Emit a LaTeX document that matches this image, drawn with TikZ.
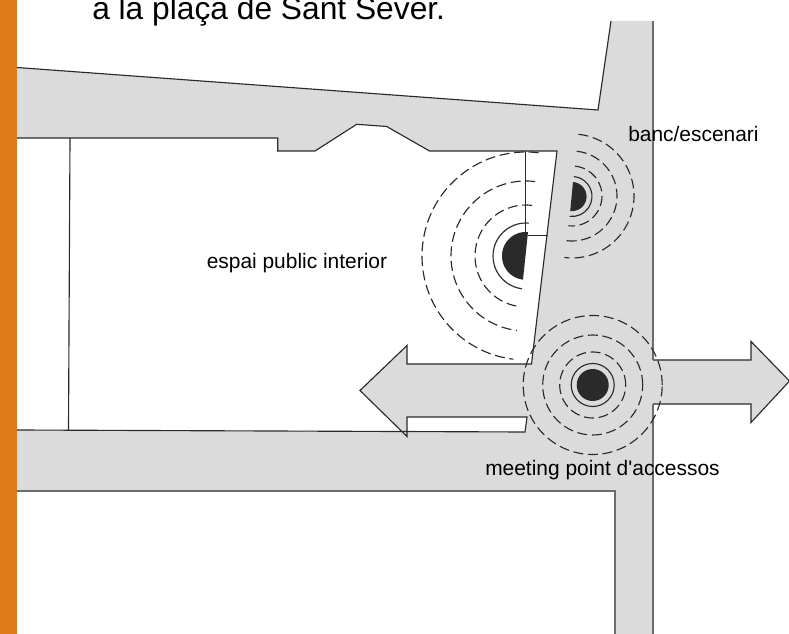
\documentclass[tikz,border=0pt]{standalone}
\usepackage{fontspec}
\setmainfont{Liberation Sans}
\newfontfamily\plainsans{Liberation Sans}
\definecolor{bandgray}{HTML}{DBDBDB}
\definecolor{barorange}{HTML}{E07B1A}
\definecolor{inkdark}{HTML}{2A2A2A}
\tikzset{
  outline/.style={draw=inkdark,line width=0.85pt,line join=miter},
  edgeline/.style={draw=gray!85!black,line width=1.1pt},
  ripple/.style={draw=inkdark,line width=0.85pt,dash pattern=on 7.5pt off 3.5pt},
  innerring/.style={draw=inkdark,line width=0.85pt},
  core/.style={fill=inkdark,draw=none},
  lbl/.style={inner sep=0pt,anchor=base west,text=black,font=\plainsans\fontsize{15.7pt}{18pt}\selectfont},
  headline/.style={inner sep=0pt,anchor=base west,text=black,font=\fontsize{23.8pt}{28pt}\selectfont}
}
\begin{document}
\begin{tikzpicture}[x=0.75pt,y=0.75pt]
\useasboundingbox (0,-634) rectangle (789,0);
\clip (0,-634) rectangle (789,0);
\fill[white] (0,-634) rectangle (789,0);
% gray street surface
\fill[bandgray] (17,-67.5) -- (598,-110) -- (611,-21) -- (653,-21) -- (653,-360) -- (751,-360) -- (751,-341.5) -- (789.5,-381) -- (751,-422.5) -- (751,-404) -- (653,-404) -- (653,-634) -- (615,-634) -- (615,-491) -- (17,-491) -- (17,-430) -- (402,-432) -- (360,-390.5) -- (407,-345.5) -- (407,-364) -- (531.5,-364) -- (557,-151) -- (429.5,-151) -- (386.7,-126.5) -- (356.7,-124.3) -- (315,-151) -- (277.7,-151) -- (277.7,-138) -- (17,-138) -- cycle;
\fill[bandgray] (402,-432) -- (407,-436.5) -- (407,-432) -- cycle;
\fill[white] (407,-417) -- (527,-417) -- (525,-432) -- (407,-432) -- cycle;
% orange bar
\fill[barorange] (0,-634) rectangle (17,0);
% outlines
\draw[outline] (17,-67.5) -- (598,-110) -- (611,-21);
\draw[outline] (17,-138) -- (277.7,-138) -- (277.7,-151) -- (315,-151) -- (356.7,-124.3) -- (386.7,-126.5) -- (429.5,-151) -- (557,-151) -- (531.5,-364) -- (407,-364) -- (407,-345.5) -- (360,-390.5) -- (407,-436.5) -- (407,-417) -- (527,-417) -- (525,-432) -- (17,-430);
\draw[outline] (70,-138) -- (68.5,-430);
\draw[outline] (525.5,-151) -- (525.5,-233);
\draw[outline] (528,-235.5) -- (548,-235.5);
\draw[outline] (653,-360) -- (751,-360) -- (751,-341.5) -- (789.5,-381) -- (751,-422.5) -- (751,-404) -- (653,-404);
\draw[edgeline] (653,-21) -- (653,-360);
\draw[edgeline] (653,-404) -- (653,-634);
\draw[edgeline] (615,-634) -- (615,-491) -- (17,-491);
% interior point
\fill[core] (528,-232) arc[start angle=85,end angle=263,radius=24] -- cycle;
\draw[innerring] (526,-256)++(85:33) arc[start angle=85,end angle=263,radius=33];
\foreach \r in {51,75,104}{
  \draw[ripple] (526,-256)++(83:\r) arc[start angle=83,end angle=263,radius=\r];
}
% bench point
\fill[core] (573,-182) arc[start angle=86,end angle=-97,radius=14.6] -- cycle;
\draw[innerring] (572,-196.5)++(85:20) arc[start angle=85,end angle=-97,radius=20];
\foreach \r in {30,45,62}{
  \draw[ripple] (572,-196)++(84:\r) arc[start angle=84,end angle=-97,radius=\r];
}
% meeting point
\fill[core] (592.7,-385) circle[radius=16];
\draw[innerring] (592.7,-385) circle[radius=21.5];
\foreach \r in {33,50,69.5}{
  \draw[ripple] (592.7,-385) circle[radius=\r];
}
% labels
\node[headline] (title) at (92,-20) {a la plaça de Sant Sever.};
\node[lbl] (interior) at (206.5,-268.5) {espai public interior};
\node[lbl] (banc) at (628,-142) {banc/escenari};
\node[lbl] (meeting) at (485,-475.5) {meeting point d'accessos};
\end{tikzpicture}
\end{document}
